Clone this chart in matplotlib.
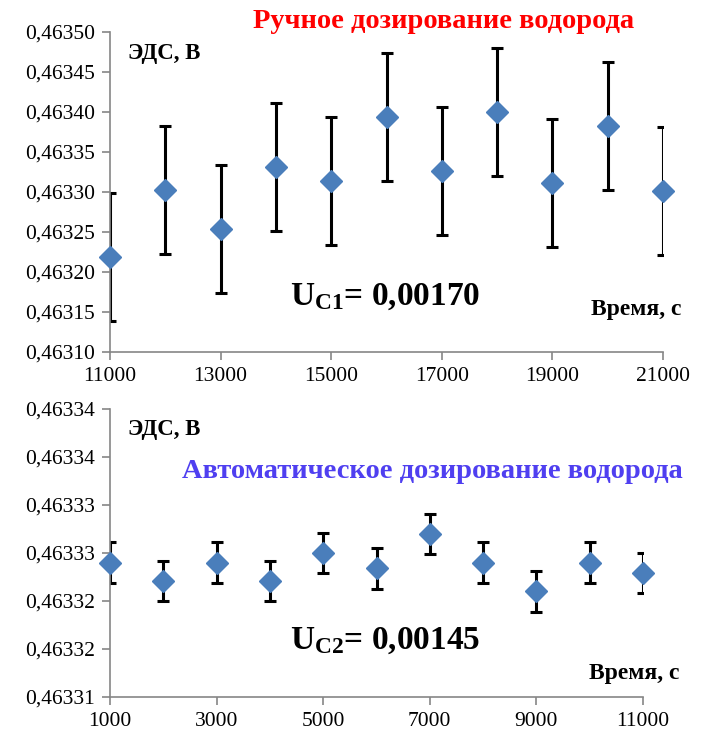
import numpy as np
import matplotlib.pyplot as plt

# Данные: ручное дозирование
t_hand = [11000, 12000, 13000, 14000, 15000, 16000, 17000, 18000, 19000, 20000, 21000]
u_hand = [0.463219, 0.463302, 0.463254, 0.463331, 0.463314, 0.463394,
          0.463326, 0.463400, 0.463311, 0.463383, 0.463301]
err_hand = 0.00008
yticks_hand = [0.46310, 0.46315, 0.46320, 0.46325, 0.46330, 0.46335, 0.46340, 0.46345, 0.46350]
ylabels_hand = ["0,46310", "0,46315", "0,46320", "0,46325", "0,46330",
                "0,46335", "0,46340", "0,46345", "0,46350"]
xticks_hand = [11000, 13000, 15000, 17000, 19000, 21000]

# Данные: автоматическое дозирование
t_auto = [1000, 2000, 3000, 4000, 5000, 6000, 7000, 8000, 9000, 10000, 11000]
u_auto = [0.463324, 0.4633221, 0.463324, 0.4633221, 0.463325, 0.4633234,
          0.463327, 0.463324, 0.463321, 0.463324, 0.4633229]
err_auto = 0.0000021
yticks_auto = [0.463310, 0.463315, 0.463320, 0.463325, 0.463330, 0.463335, 0.463340]
ylabels_auto = ["0,46331", "0,46332", "0,46332", "0,46333", "0,46333", "0,46334", "0,46334"]
xticks_auto = [1000, 3000, 5000, 7000, 9000, 11000]

plt.rcParams['font.family'] = ['Liberation Serif', 'DejaVu Serif']
plt.rcParams['mathtext.fontset'] = 'custom'
plt.rcParams['mathtext.rm'] = 'Liberation Serif'
plt.rcParams['mathtext.bf'] = 'Liberation Serif:bold'

fig = plt.figure(figsize=(7.02, 7.36), dpi=100)
ax1 = fig.add_axes([110/702, 1 - 352/736, 553/702, 320/736])
ax2 = fig.add_axes([110/702, 1 - 697/736, 533/702, 288/736])

blue = '#4a7ebb'
gray = '#868686'


def panel(ax, x, y, err, xt, yt, yl):
    ax.errorbar(x, y, yerr=err, fmt='none', ecolor='black', elinewidth=2.2,
                capsize=4, capthick=2.2, zorder=2)
    ax.plot(x, y, 'D', color=blue, ms=11, mec=blue, clip_on=False, zorder=3)
    ax.set_xlim(xt[0], xt[-1])
    ax.set_ylim(yt[0], yt[-1])
    ax.set_xticks(xt)
    ax.set_xticklabels([str(v) for v in xt])
    ax.set_yticks(yt)
    ax.set_yticklabels(yl)
    for s in ['top', 'right']:
        ax.spines[s].set_visible(False)
    for s in ['left', 'bottom']:
        ax.spines[s].set_color(gray)
        ax.spines[s].set_linewidth(1.2)
    ax.tick_params(direction='out', length=6, width=1.2, color=gray,
                   labelsize=15.5, pad=5)


panel(ax1, t_hand, u_hand, err_hand, xticks_hand, yticks_hand, ylabels_hand)
panel(ax2, t_auto, u_auto, err_auto, xticks_auto, yticks_auto, ylabels_auto)

# Подписи верхнего графика
fig.text(444/702, 1 - 22/736, "Ручное дозирование водорода", color='red',
         fontsize=20.5, fontweight='bold', ha='center', va='center')
fig.text(128/702, 1 - 53/736, "ЭДС, В", fontsize=16.5, fontweight='bold',
         ha='left', va='center')
fig.text(681/702, 1 - 310/736, "Время, с", fontsize=17, fontweight='bold',
         ha='right', va='center')
fig.text(290/702, 1 - 297/736, r"$\mathbf{U_{C1}}$= 0,00170", fontsize=24,
         fontweight='bold', ha='left', va='center')

# Подписи нижнего графика
fig.text(128/702, 1 - 430/736, "ЭДС, В", fontsize=16.5, fontweight='bold',
         ha='left', va='center')
fig.text(432/702, 1 - 472/736, "Автоматическое дозирование водорода", color='#4f3ff0',
         fontsize=20.5, fontweight='bold', ha='center', va='center')
fig.text(679/702, 1 - 673/736, "Время, с", fontsize=17, fontweight='bold',
         ha='right', va='center')
fig.text(290/702, 1 - 640/736, r"$\mathbf{U_{C2}}$= 0,00145", fontsize=24,
         fontweight='bold', ha='left', va='center')

fig.savefig('out.png', dpi=100)
